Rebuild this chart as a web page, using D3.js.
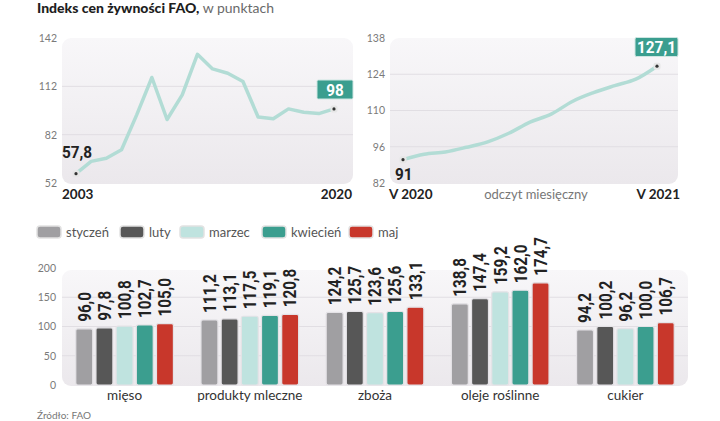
<!DOCTYPE html>
<html>
<head>
<meta charset="utf-8">
<script src="https://cdn.jsdelivr.net/npm/d3@7"></script>
<style>
	body { margin: 0; background: #fff; }
	svg { display: block; font-family: Lato, "Noto Sans", sans-serif; }
	.num { font-family: Roboto, "Noto Sans", sans-serif; font-weight: bold; }
</style>
</head>
<body>
<svg id="chart" width="720" height="421"></svg>
<script>
// yearly index, 2003-2020
var years = [2003, 2004, 2005, 2006, 2007, 2008, 2009, 2010, 2011, 2012, 2013, 2014, 2015, 2016, 2017, 2018, 2019, 2020];
var yearlyIndex = [57.8, 65.4, 67.4, 72.6, 94.3, 117.5, 91.4, 106.7, 131.9, 122.8, 120.1, 115.0, 93.0, 91.9, 98.0, 95.9, 95.1, 98.0];
var yearTicks = [52, 82, 112, 142];

// monthly index, V 2020 - V 2021
var months = ["V 2020", "VI 2020", "VII 2020", "VIII 2020", "IX 2020", "X 2020", "XI 2020", "XII 2020", "I 2021", "II 2021", "III 2021", "IV 2021", "V 2021"];
var monthlyIndex = [91.0, 93.1, 94.0, 95.8, 97.9, 101.2, 105.5, 108.6, 113.5, 116.9, 119.6, 122.1, 127.1];
var monthTicks = [82, 96, 110, 124, 138];

// bars
var categories = ["mięso", "produkty mleczne", "zboża", "oleje roślinne", "cukier"];
var seriesNames = ["styczeń", "luty", "marzec", "kwiecień", "maj"];
var seriesColors = ["#a09fa2", "#575757", "#bfe3df", "#3b9e8f", "#c8372b"];
var styczen = [96.0, 111.2, 124.2, 138.8, 94.2];
var luty = [97.8, 113.1, 125.7, 147.4, 100.2];
var marzec = [100.8, 117.5, 123.6, 159.2, 96.2];
var kwiecien = [102.7, 119.1, 125.6, 162.0, 100.0];
var maj = [105.0, 120.8, 133.1, 174.7, 106.7];
var barTicks = [0, 50, 100, 150, 200];

var series = [styczen, luty, marzec, kwiecien, maj];
var fmt = function(v) { return d3.format(".1f")(v).replace(".", ","); };

var svg = d3.select("#chart");
var defs = svg.append("defs");
var grad = defs.append("linearGradient").attr("id", "panel").attr("x1", 0).attr("y1", 0).attr("x2", 0).attr("y2", 1);
grad.append("stop").attr("offset", "0%").attr("stop-color", "#f8f7f9");
grad.append("stop").attr("offset", "100%").attr("stop-color", "#ebe8ec");

// title
var title = svg.append("text").attr("x", 37).attr("y", 13).attr("font-size", 14);
title.append("tspan").attr("font-weight", 900).attr("fill", "#1e1e1e").text("Indeks cen żywności FAO,");
title.append("tspan").attr("fill", "#6a6a6a").text(" w punktach");

// draws one line panel
function linePanel(opts) {
	var y = d3.scaleLinear().domain(opts.domain).range([183, 38]);
	var x = d3.scaleLinear().domain([0, opts.values.length - 1]).range([opts.x0, opts.x1]);
	var g = svg.append("g");
	g.append("rect").attr("x", opts.left).attr("y", 38).attr("width", opts.right - opts.left).attr("height", 146)
		.attr("rx", 9).attr("fill", "url(#panel)");
	g.selectAll(".grid").data(opts.ticks.slice(1, -1)).enter().append("line")
		.attr("x1", opts.left).attr("x2", opts.right)
		.attr("y1", function(d) { return y(d); }).attr("y2", function(d) { return y(d); })
		.attr("stroke", "#e1dee3").attr("stroke-width", 1);
	var axis = g.append("g").attr("transform", "translate(" + (opts.left - 5) + ",0)")
		.call(d3.axisLeft(y).tickValues(opts.ticks).tickSize(0).tickPadding(0));
	axis.select(".domain").remove();
	axis.selectAll("text").attr("font-size", 10.5).attr("fill", "#7a7a7a").attr("font-family", "Lato");
	var line = d3.line().x(function(d, i) { return x(i); }).y(function(d) { return y(d); }).curve(opts.curve);
	g.append("path").datum(opts.values).attr("d", line).attr("fill", "none")
		.attr("stroke", "#b2dcd5").attr("stroke-width", 3.5).attr("stroke-linejoin", "round").attr("stroke-linecap", "round");
	[0, opts.values.length - 1].forEach(function(i) {
		g.append("rect").attr("x", x(i) - 3.5).attr("y", y(opts.values[i]) - 3.5).attr("width", 7).attr("height", 7)
			.attr("rx", 2).attr("fill", "#e6e6e6");
		g.append("circle").attr("cx", x(i)).attr("cy", y(opts.values[i])).attr("r", 1.6).attr("fill", "#333");
	});
	return { x: x, y: y, g: g };
}

var left = linePanel({ values: yearlyIndex, domain: [52, 142], ticks: yearTicks, left: 62, right: 353, x0: 76, x1: 334, curve: d3.curveLinear });
var right = linePanel({ values: monthlyIndex, domain: [82, 138], ticks: monthTicks, left: 390, right: 678, x0: 403, x1: 657, curve: d3.curveMonotoneX });

// first values
left.g.append("text").attr("class", "num").attr("transform", "translate(62,158) scale(0.9,1)")
	.attr("font-size", 17).attr("fill", "#222").text(fmt(yearlyIndex[0]));
right.g.append("text").attr("class", "num").attr("transform", "translate(395,180) scale(0.9,1)")
	.attr("font-size", 17).attr("fill", "#222").text(d3.format("d")(monthlyIndex[0]));

// last value boxes
function valueBox(g, cx, cy, w, label) {
	g.append("rect").attr("x", cx - w / 2).attr("y", cy - 9.5).attr("width", w).attr("height", 19).attr("rx", 1.5)
		.attr("fill", "#3b9e8f").attr("stroke", "#cfe6e2").attr("stroke-width", 1);
	g.append("text").attr("class", "num").attr("transform", "translate(" + cx + "," + (cy + 6) + ") scale(0.9,1)")
		.attr("text-anchor", "middle")
		.attr("font-size", 17).attr("fill", "#fff").text(label);
}
valueBox(left.g, 335, 89.5, 36, d3.format("d")(yearlyIndex[yearlyIndex.length - 1]));
valueBox(right.g, 656.5, 47, 43, fmt(monthlyIndex[monthlyIndex.length - 1]));

// x labels
function xLabel(x, anchor, text) {
	svg.append("text").attr("x", x).attr("y", 199).attr("text-anchor", anchor)
		.attr("font-size", 13.5).attr("font-weight", "bold").attr("fill", "#222").text(text);
}
xLabel(62, "start", years[0]);
xLabel(352, "end", years[years.length - 1]);
xLabel(389, "start", months[0]);
xLabel(680, "end", months[months.length - 1]);
svg.append("text").attr("x", 536).attr("y", 199).attr("text-anchor", "middle").attr("font-size", 13).attr("fill", "#777").text("odczyt miesięczny");

// legend
var legendX = [37, 120, 180, 262, 349];
var legend = svg.append("g").selectAll("g").data(seriesNames).enter().append("g")
	.attr("transform", function(d, i) { return "translate(" + legendX[i] + ",226)"; });
legend.append("rect").attr("width", 24).attr("height", 12).attr("rx", 3)
	.attr("fill", function(d, i) { return seriesColors[i]; })
	.attr("stroke", "#e2e2e2").attr("stroke-width", 1.5);
legend.append("text").attr("x", 29).attr("y", 10.5).attr("font-size", 13).attr("fill", "#555").text(function(d) { return d; });

// bar chart
var yb = d3.scaleLinear().domain([0, 200]).range([385, 268]);
var x0 = d3.scaleBand().domain(categories).range([62, 688]).paddingInner(0.22).paddingOuter(0.11);
var x1 = d3.scaleBand().domain(seriesNames).range([0, x0.bandwidth()]).paddingInner(0.16);

var bg = svg.append("g");
bg.append("rect").attr("x", 62).attr("y", 270).attr("width", 626).attr("height", 116).attr("rx", 9).attr("fill", "url(#panel)");
bg.selectAll(".grid").data([50, 100, 150]).enter().append("line")
	.attr("x1", 62).attr("x2", 688)
	.attr("y1", function(d) { return yb(d); }).attr("y2", function(d) { return yb(d); })
	.attr("stroke", "#e1dee3");
var baxis = bg.append("g").attr("transform", "translate(56,0)")
	.call(d3.axisLeft(yb).tickValues(barTicks).tickSize(0).tickPadding(0));
baxis.select(".domain").remove();
baxis.selectAll("text").attr("font-size", 10.5).attr("fill", "#7a7a7a").attr("font-family", "Lato");

var groups = bg.selectAll(".group").data(categories).enter().append("g")
	.attr("transform", function(d) { return "translate(" + x0(d) + ",0)"; });
groups.each(function(cat, ci) {
	var gg = d3.select(this);
	var rows = seriesNames.map(function(name, si) { return { name: name, value: series[si][ci], color: seriesColors[si] }; });
	gg.selectAll("rect").data(rows).enter().append("rect")
		.attr("x", function(d) { return x1(d.name); })
		.attr("y", function(d) { return yb(d.value); })
		.attr("width", x1.bandwidth())
		.attr("height", function(d) { return yb(0) - yb(d.value); })
		.attr("rx", 2)
		.attr("fill", function(d) { return d.color; })
		.attr("stroke", "#e4e2e6").attr("stroke-width", 1.2);
	// rotated, slightly condensed value labels
	gg.selectAll(".val").data(rows).enter().append("text")
		.attr("class", "num")
		.attr("font-size", 17.5).attr("fill", "#222")
		.attr("transform", function(d) { return "translate(" + (x1(d.name) + x1.bandwidth() / 2) + "," + (yb(d.value) - 7) + ") rotate(-90) scale(0.87,1)"; })
		.attr("dy", "0.36em")
		.text(function(d) { return fmt(d.value); });
	gg.append("text").attr("x", x0.bandwidth() / 2).attr("y", 400).attr("text-anchor", "middle")
		.attr("font-size", 13.5).attr("fill", "#333").text(cat);
});

svg.append("text").attr("x", 37).attr("y", 419).attr("font-size", 10).attr("fill", "#777").text("Źródło: FAO");
</script>
</body>
</html>
